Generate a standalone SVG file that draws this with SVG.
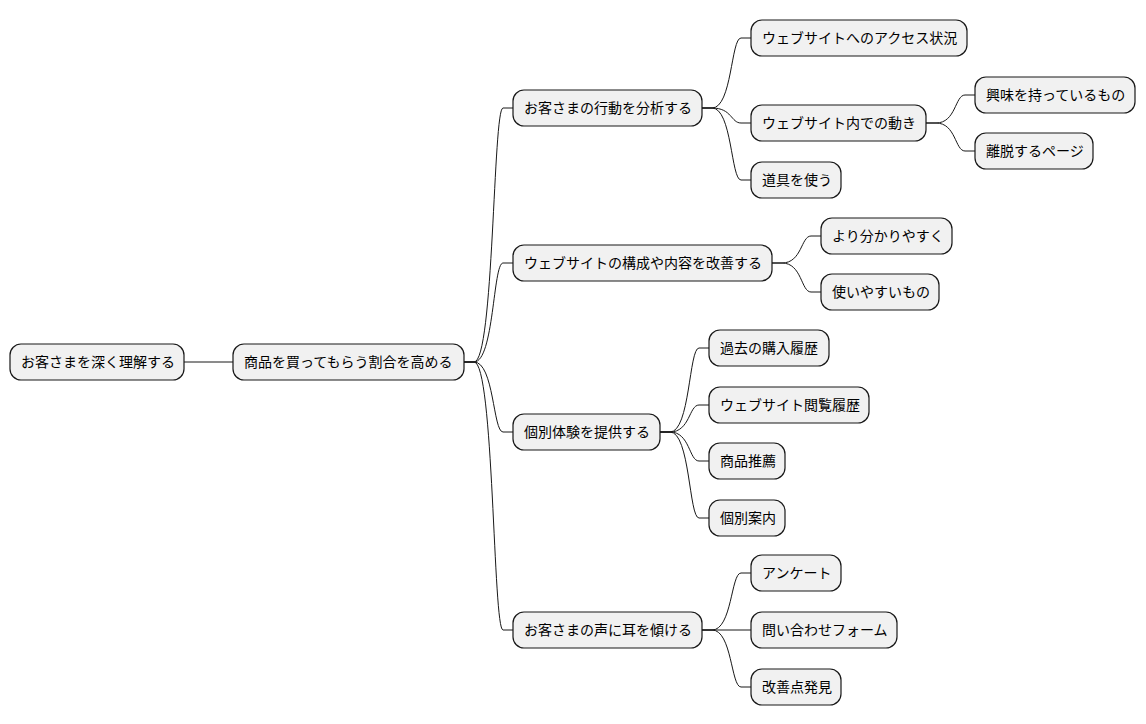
<svg xmlns="http://www.w3.org/2000/svg" width="1146" height="724" viewBox="0 0 1146 724">
<style>
.n rect{fill:#F1F1F1;stroke:#181818;stroke-width:1.2}
.n text{font-family:"Liberation Sans","Noto Sans CJK JP",sans-serif;font-size:14px;fill:#000;dominant-baseline:central}
#c path{fill:none;stroke:#181818;stroke-width:1}
</style>
<rect width="1146" height="724" fill="#fff"/>
<g id="c">
<path d="M184 362 L233 362"/>
<path d="M464 362 L474 362 C494 362 493 108 503 108 L513 108"/>
<path d="M464 362 L474 362 C494 362 493 263 503 263 L513 263"/>
<path d="M464 362 L474 362 C494 362 493 432 503 432 L513 432"/>
<path d="M464 362 L474 362 C494 362 493 630 503 630 L513 630"/>
<path d="M702 108 L712 108 C732 108 731 38 741 38 L751 38"/>
<path d="M702 108 L712 108 C732 108 731 123 741 123 L751 123"/>
<path d="M702 108 L712 108 C732 108 731 180 741 180 L751 180"/>
<path d="M926 123 L936 123 C956 123 955 95 965 95 L975 95"/>
<path d="M926 123 L936 123 C956 123 955 151 965 151 L975 151"/>
<path d="M772 263 L782 263 C802 263 801 236 811 236 L821 236"/>
<path d="M772 263 L782 263 C802 263 801 292 811 292 L821 292"/>
<path d="M660 432 L670 432 C690 432 689 348 699 348 L709 348"/>
<path d="M660 432 L670 432 C690 432 689 405 699 405 L709 405"/>
<path d="M660 432 L670 432 C690 432 689 461 699 461 L709 461"/>
<path d="M660 432 L670 432 C690 432 689 518 699 518 L709 518"/>
<path d="M702 630 L712 630 C732 630 731 573 741 573 L751 573"/>
<path d="M702 630 L741 630 L751 630"/>
<path d="M702 630 L712 630 C732 630 731 687 741 687 L751 687"/>
</g>
<g id="n0" class="n"><rect x="10" y="344" width="174" height="36" rx="11"/><text x="21" y="362">お客さまを深く理解する</text></g>
<g id="n1" class="n"><rect x="233" y="344" width="231" height="36" rx="11"/><text x="244" y="362">商品を買ってもらう割合を高める</text></g>
<g id="n2" class="n"><rect x="513" y="90" width="189" height="36" rx="11"/><text x="524" y="108">お客さまの行動を分析する</text></g>
<g id="n3" class="n"><rect x="513" y="245" width="259" height="36" rx="11"/><text x="524" y="263">ウェブサイトの構成や内容を改善する</text></g>
<g id="n4" class="n"><rect x="513" y="414" width="147" height="36" rx="11"/><text x="524" y="432">個別体験を提供する</text></g>
<g id="n5" class="n"><rect x="513" y="612" width="189" height="36" rx="11"/><text x="524" y="630">お客さまの声に耳を傾ける</text></g>
<g id="n6" class="n"><rect x="751" y="20" width="216" height="36" rx="11"/><text x="762" y="38">ウェブサイトへのアクセス状況</text></g>
<g id="n7" class="n"><rect x="751" y="105" width="175" height="36" rx="11"/><text x="762" y="123">ウェブサイト内での動き</text></g>
<g id="n8" class="n"><rect x="751" y="162" width="90" height="36" rx="11"/><text x="762" y="180">道具を使う</text></g>
<g id="n9" class="n"><rect x="975" y="77" width="160" height="36" rx="11"/><text x="986" y="95">興味を持っているもの</text></g>
<g id="n10" class="n"><rect x="975" y="133" width="118" height="36" rx="11"/><text x="986" y="151">離脱するページ</text></g>
<g id="n11" class="n"><rect x="821" y="218" width="131" height="36" rx="11"/><text x="832" y="236">より分かりやすく</text></g>
<g id="n12" class="n"><rect x="821" y="274" width="118" height="36" rx="11"/><text x="832" y="292">使いやすいもの</text></g>
<g id="n13" class="n"><rect x="709" y="330" width="120" height="36" rx="11"/><text x="720" y="348">過去の購入履歴</text></g>
<g id="n14" class="n"><rect x="709" y="387" width="160" height="36" rx="11"/><text x="720" y="405">ウェブサイト閲覧履歴</text></g>
<g id="n15" class="n"><rect x="709" y="443" width="76" height="36" rx="11"/><text x="720" y="461">商品推薦</text></g>
<g id="n16" class="n"><rect x="709" y="500" width="76" height="36" rx="11"/><text x="720" y="518">個別案内</text></g>
<g id="n17" class="n"><rect x="751" y="555" width="90" height="36" rx="11"/><text x="762" y="573">アンケート</text></g>
<g id="n18" class="n"><rect x="751" y="612" width="146" height="36" rx="11"/><text x="762" y="630">問い合わせフォーム</text></g>
<g id="n19" class="n"><rect x="751" y="669" width="90" height="36" rx="11"/><text x="762" y="687">改善点発見</text></g>
</svg>
